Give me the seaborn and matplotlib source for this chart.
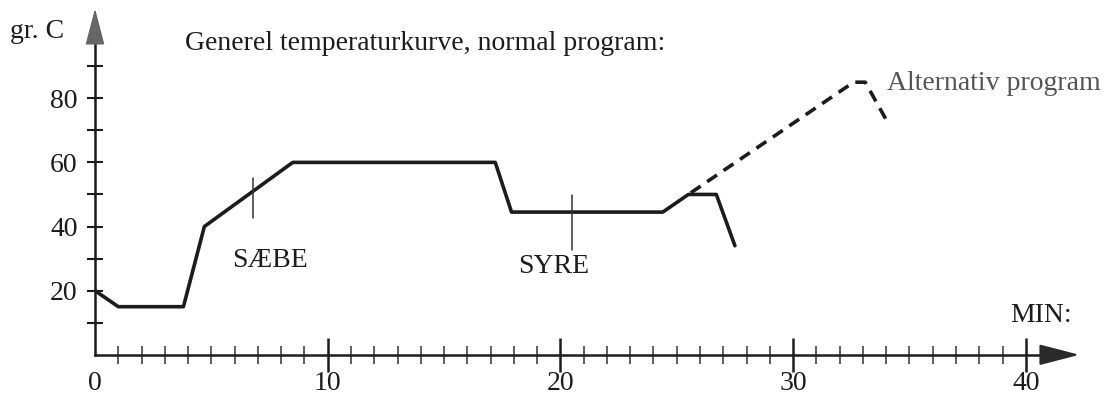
import numpy as np
import pandas as pd
import matplotlib
matplotlib.use("Agg")
import matplotlib.pyplot as plt
import seaborn as sns

# (minutes, degrees C)
normal_min = [0, 1, 3.8, 4.7, 8.5, 17.2, 17.9, 24.4, 25.5, 26.7, 27.5]
normal_temp = [20, 15, 15, 40, 60, 60, 44.5, 44.5, 50, 50, 34]
alt_min = [25.6, 32.6, 33.1, 34.1]
alt_temp = [50.5, 85, 85, 72]

# phase markers
phase_names = ["SÆBE", "SYRE"]
phase_min = [6.8, 20.5]
phase_low = [42.7, 32.6]
phase_high = [55.1, 49.8]

x_labels = [0, 10, 20, 30, 40]
y_labels = [20, 40, 60, 80]

sns.set_theme(style="white")
plt.rcParams["font.family"] = ["Liberation Serif", "DejaVu Serif"]

ink = "#1c1c1c"
fs = 20
fig = plt.figure(figsize=(11.19, 4.2), dpi=100)
ax = fig.add_axes([95 / 1119, 65.2 / 420, 43.5 * 23.27 / 1119, 108 * 3.207 / 420])

normal = pd.DataFrame({"min": normal_min, "temp": normal_temp})
alt = pd.DataFrame({"min": alt_min, "temp": alt_temp})
sns.lineplot(data=normal, x="min", y="temp", sort=False, estimator=None,
             color=ink, lw=2.6, ax=ax)
sns.lineplot(data=alt, x="min", y="temp", sort=False, estimator=None,
             color=ink, lw=2.6, dashes=False, ax=ax)
ax.lines[-1].set_dashes([3.3, 2.2])

for name, xm, lo, hi in zip(phase_names, phase_min, phase_low, phase_high):
    ax.plot([xm, xm], [lo, hi], color="#333333", lw=1.1)
ax.text(7.5, 29.5, phase_names[0], ha="center", va="center", fontsize=fs, color=ink)
ax.text(19.7, 27.5, phase_names[1], ha="center", va="center", fontsize=fs, color=ink)

ax.set_xlim(0, 43.5)
ax.set_ylim(0, 108)
ax.set_xlabel("")
ax.set_ylabel("")
for s in ["top", "right"]:
    ax.spines[s].set_visible(False)
ax.spines["bottom"].set_bounds(0, 40.8)
ax.spines["left"].set_bounds(0, 98.5)
for s in ["bottom", "left"]:
    ax.spines[s].set_color(ink)
    ax.spines[s].set_linewidth(1.8)

ax.set_xticks(x_labels)
ax.set_xticks([m for m in range(1, 40) if m % 10], minor=True)
ax.set_yticks(y_labels)
ax.set_yticks([10, 30, 50, 70, 90], minor=True)
ax.tick_params(bottom=True, left=True, which="both")
ax.tick_params(axis="x", which="major", direction="inout", length=24, width=1.8,
               color=ink, labelsize=fs, labelcolor=ink, pad=0)
ax.tick_params(axis="x", which="minor", direction="inout", length=13, width=1.2, color="#444444")
ax.tick_params(axis="y", which="both", direction="inout", length=12, width=1.5,
               color=ink, labelsize=fs, labelcolor=ink, pad=6.5)
ax.xaxis.get_major_ticks()[0].tick1line.set_visible(False)

# axis arrow heads
ax.annotate("", xy=(42.3, 0), xytext=(40.7, 0), annotation_clip=False,
            arrowprops=dict(arrowstyle="-|>,head_length=2.5,head_width=0.65",
                            mutation_scale=10, color="#2a2a2a", lw=1.5,
                            shrinkA=0, shrinkB=0))
ax.annotate("", xy=(0, 108), xytext=(0, 98), annotation_clip=False,
            arrowprops=dict(arrowstyle="-|>,head_length=2.3,head_width=0.6",
                            mutation_scale=10, color="#666666", lw=1.2,
                            shrinkA=0, shrinkB=0))

fig.text(10 / 1119, 1 - 31 / 420, "gr. C", ha="left", va="center", fontsize=fs, color=ink)
fig.text(185 / 1119, 1 - 44 / 420, "Generel temperaturkurve, normal program:",
         ha="left", va="center", fontsize=fs, color=ink)
fig.text(887 / 1119, 1 - 83 / 420, "Alternativ program", ha="left", va="center",
         fontsize=fs, color="#555555")
fig.text(1072 / 1119, 1 - 315 / 420, "MIN:", ha="right", va="center", fontsize=fs, color=ink)

fig.savefig("out.png", dpi=100, facecolor="white")
